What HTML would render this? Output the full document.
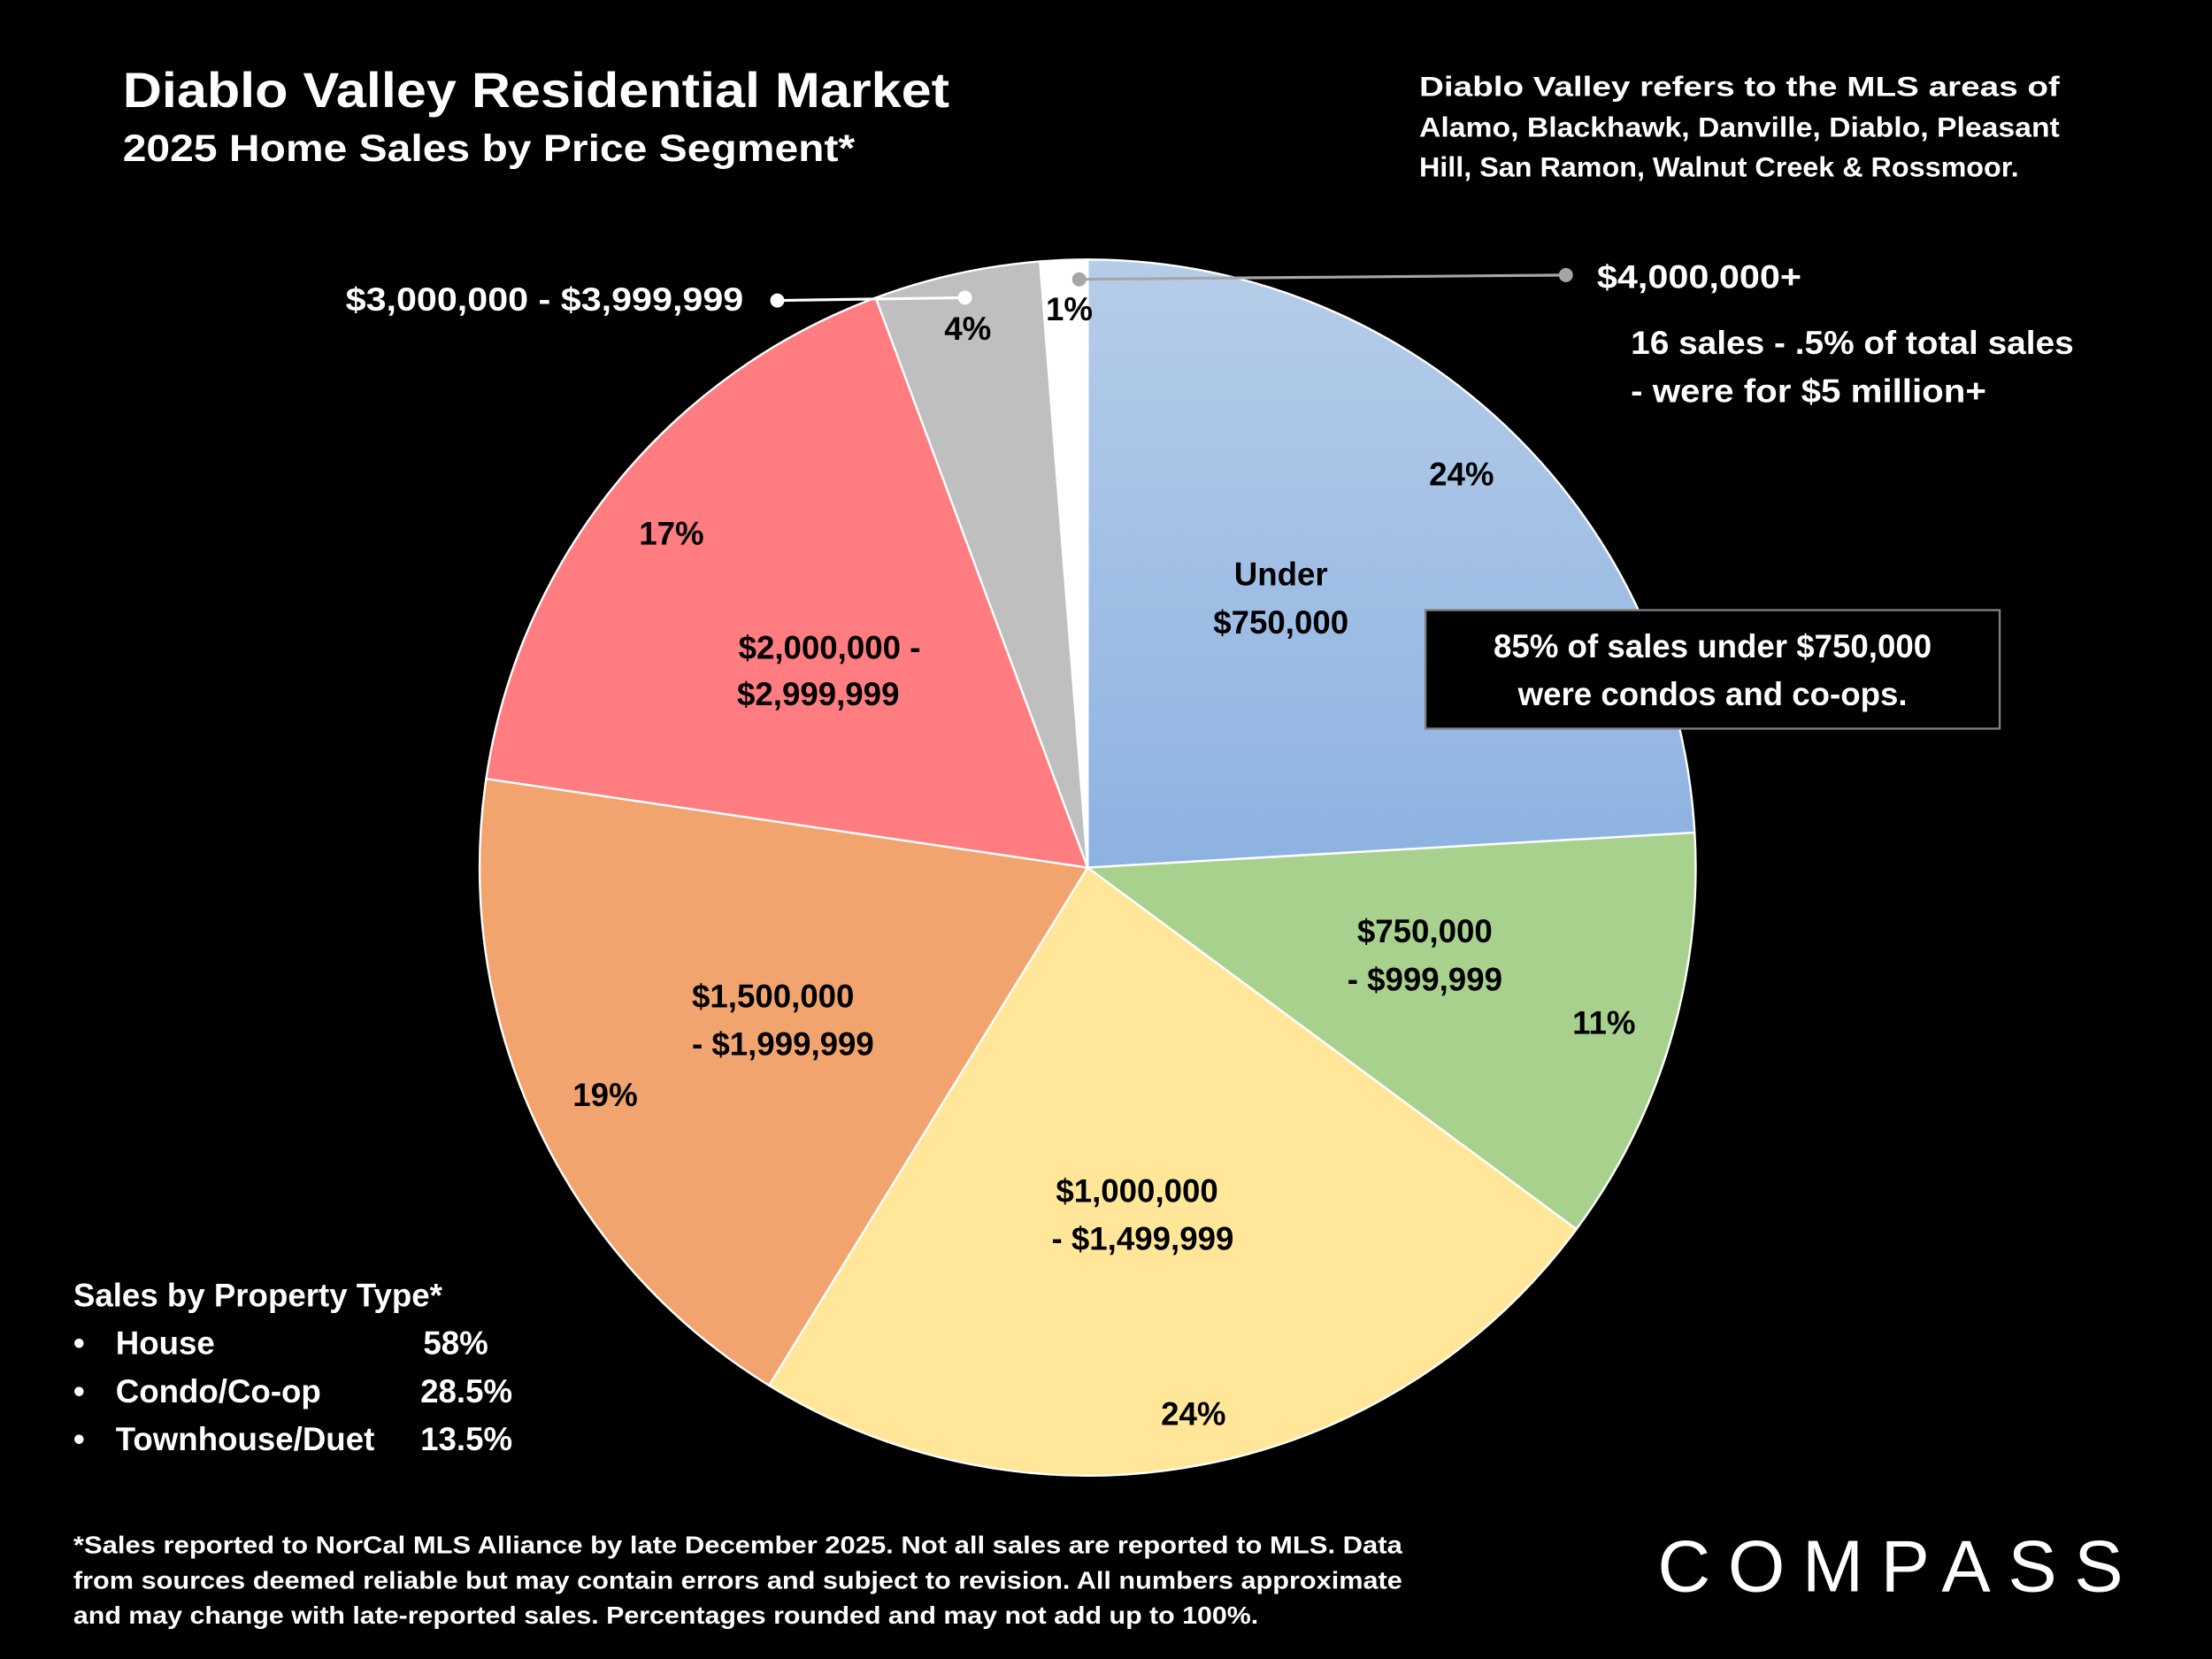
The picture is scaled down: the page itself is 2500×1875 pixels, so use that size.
<!DOCTYPE html>
<html><head><meta charset="utf-8">
<style>
html,body{margin:0;padding:0;background:#000;}
svg{display:block}
text{font-family:"Liberation Sans",sans-serif;font-weight:bold;}
</style></head>
<body>
<svg width="2500" height="1875" viewBox="0 0 1568 1176" xmlns="http://www.w3.org/2000/svg">
<defs>
<linearGradient id="blue" x1="0" y1="0" x2="0" y2="1">
<stop offset="0" stop-color="#b6cde9"/><stop offset="1" stop-color="#8db2e1"/>
</linearGradient>
</defs>
<rect width="1568" height="1176" fill="#000"/>
<g stroke="#fff" stroke-width="1.5">
<path d="M771,615 L771,184 A431,431 0 0 1 1201.28,590.19 Z" fill="url(#blue)"/>
<path d="M771,615 L1201.28,590.19 A431,431 0 0 1 1117.46,871.37 Z" fill="#a9d18e"/>
<path d="M771,615 L1117.46,871.37 A431,431 0 0 1 545.16,982.10 Z" fill="#ffe699"/>
<path d="M771,615 L545.16,982.10 A431,431 0 0 1 344.62,552.04 Z" fill="#f2a46f"/>
<path d="M771,615 L344.62,552.04 A431,431 0 0 1 620.77,211.03 Z" fill="#ff7c80"/>
<path d="M771,615 L620.77,211.03 A431,431 0 0 1 737.18,185.33 Z" fill="#bfbfbf"/>
<path d="M771,615 L737.18,185.33 A431,431 0 0 1 771,184 Z" fill="#ffffff"/>
</g>

<!-- title -->
<text x="87" y="76" font-size="35" fill="#fff" textLength="586" lengthAdjust="spacingAndGlyphs">Diablo Valley Residential Market</text>
<text x="87" y="114" font-size="27" fill="#fff" textLength="519" lengthAdjust="spacingAndGlyphs">2025 Home Sales by Price Segment*</text>

<g font-size="19.5" fill="#fff">
<text x="1006" y="68" textLength="454" lengthAdjust="spacingAndGlyphs">Diablo Valley refers to the MLS areas of</text>
<text x="1006" y="97" textLength="454" lengthAdjust="spacingAndGlyphs">Alamo, Blackhawk, Danville, Diablo, Pleasant</text>
<text x="1006" y="125" textLength="425" lengthAdjust="spacingAndGlyphs">Hill, San Ramon, Walnut Creek &amp; Rossmoor.</text>
</g>

<!-- leader lines -->
<line x1="551" y1="213" x2="684" y2="211" stroke="#fff" stroke-width="2"/>
<circle cx="551" cy="213" r="5" fill="#fff"/><circle cx="684" cy="211" r="5" fill="#fff"/>
<line x1="765" y1="198" x2="1110" y2="195" stroke="#a6a6a6" stroke-width="2"/>
<circle cx="765" cy="198" r="5" fill="#a6a6a6"/><circle cx="1110" cy="195" r="5" fill="#a6a6a6"/>

<g font-size="23" fill="#fff">
<text x="527" y="220" text-anchor="end" textLength="282" lengthAdjust="spacingAndGlyphs">$3,000,000 - $3,999,999</text>
<text x="1132" y="204" textLength="145" lengthAdjust="spacingAndGlyphs">$4,000,000+</text>
<text x="1156" y="251" textLength="314" lengthAdjust="spacingAndGlyphs">16 sales - .5% of total sales</text>
<text x="1156" y="285" textLength="252" lengthAdjust="spacingAndGlyphs">- were for $5 million+</text>
</g>

<!-- slice labels -->
<g font-size="23" fill="#000" text-anchor="middle">
<text x="686" y="241">4%</text>
<text x="758" y="227">1%</text>
<text x="1036" y="344">24%</text>
<text x="908" y="415">Under</text>
<text x="908" y="449">$750,000</text>
<text x="476" y="386">17%</text>
<text x="588" y="467">$2,000,000 -</text>
<text x="580" y="500">$2,999,999</text>
<text x="1010" y="668">$750,000</text>
<text x="1010" y="702">- $999,999</text>
<text x="1137" y="733">11%</text>
<text x="548" y="714">$1,500,000</text>
<text x="555" y="748">- $1,999,999</text>
<text x="429" y="784">19%</text>
<text x="806" y="852">$1,000,000</text>
<text x="810" y="886">- $1,499,999</text>
<text x="846" y="1010">24%</text>
</g>

<!-- callout -->
<rect x="1010.5" y="432.5" width="407" height="84" fill="#000" stroke="#7f7f7f" stroke-width="1.5"/>
<g font-size="23" fill="#fff" text-anchor="middle">
<text x="1214" y="466">85% of sales under $750,000</text>
<text x="1214" y="500">were condos and co-ops.</text>
</g>

<!-- property type -->
<g font-size="23" fill="#fff">
<text x="52" y="926">Sales by Property Type*</text>
<text x="52" y="960">•</text><text x="82" y="960">House</text><text x="300" y="960">58%</text>
<text x="52" y="994">•</text><text x="82" y="994">Condo/Co-op</text><text x="298" y="994">28.5%</text>
<text x="52" y="1028">•</text><text x="82" y="1028">Townhouse/Duet</text><text x="298" y="1028">13.5%</text>
</g>

<!-- footnote -->
<g font-size="17.5" fill="#fff">
<text x="52" y="1101" textLength="942" lengthAdjust="spacingAndGlyphs">*Sales reported to NorCal MLS Alliance by late December 2025. Not all sales are reported to MLS. Data</text>
<text x="52" y="1126" textLength="942" lengthAdjust="spacingAndGlyphs">from sources deemed reliable but may contain errors and subject to revision. All numbers approximate</text>
<text x="52" y="1151" textLength="840" lengthAdjust="spacingAndGlyphs">and may change with late-reported sales. Percentages rounded and may not add up to 100%.</text>
</g>

<!-- logo -->
<text x="1175" y="1128" font-size="52" fill="#fff" style="font-weight:normal" textLength="330" lengthAdjust="spacing">COMPASS</text>
</svg>
</body></html>
